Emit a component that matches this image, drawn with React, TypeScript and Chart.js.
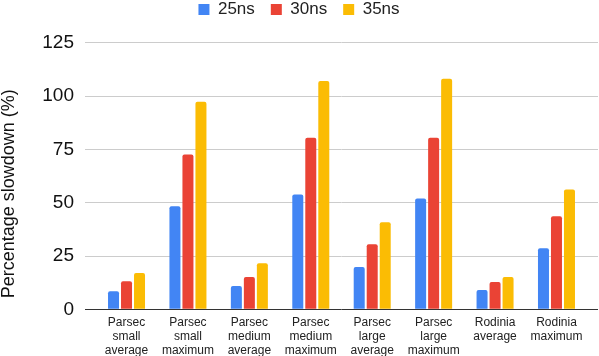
import React, { useEffect, useRef } from "react";
import { Chart, registerables } from "chart.js";

Chart.register(...registerables);

const categories: string[][] = [
  ["Parsec", "small", "average"],
  ["Parsec", "small", "maximum"],
  ["Parsec", "medium", "average"],
  ["Parsec", "medium", "maximum"],
  ["Parsec", "large", "average"],
  ["Parsec", "large", "maximum"],
  ["Rodinia", "average"],
  ["Rodinia", "maximum"],
];

const seriesNames = ["25ns", "30ns", "35ns"];
const values25 = [8.5, 48.3, 10.9, 53.9, 19.8, 52.0, 9.0, 28.6];
const values30 = [13.2, 72.6, 15.1, 80.5, 30.5, 80.5, 12.8, 43.6];
const values35 = [17.0, 97.3, 21.6, 107.1, 40.8, 108.1, 15.1, 56.2];
const yTicks = [0, 25, 50, 75, 100, 125];
const yTitle = "Percentage slowdown (%)";

const colors = ["#4285F4", "#EA4335", "#FBBC04"];
const FONT = "Arial, 'Liberation Sans', sans-serif";

const yTitlePlugin = {
  id: "yTitle",
  afterDraw(chart: any) {
    const ctx = chart.ctx as CanvasRenderingContext2D;
    const area = chart.chartArea;
    ctx.save();
    ctx.font = `18px ${FONT}`;
    ctx.fillStyle = "#111";
    ctx.textAlign = "left";
    ctx.textBaseline = "middle";
    ctx.translate(9, area.bottom - 11);
    ctx.rotate(-Math.PI / 2);
    ctx.fillText(yTitle, 0, 0);
    ctx.restore();
  },
};

export default function App() {
  const ref = useRef<HTMLCanvasElement | null>(null);

  useEffect(() => {
    if (!ref.current) return;
    const allSeries = [values25, values30, values35];
    const chart = new Chart(ref.current, {
      type: "bar",
      data: {
        datasets: allSeries.map((vals, s) => ({
          label: seriesNames[s],
          data: vals.map((v, i) => ({ x: i, y: v })),
          backgroundColor: colors[s],
          borderWidth: 0,
          borderRadius: 2,
          categoryPercentage: 0.635,
          barPercentage: 0.846,
        })),
      },
      plugins: [yTitlePlugin],
      options: {
        animation: false,
        responsive: false,
        layout: { padding: { top: -15, left: 0, right: 1, bottom: 0 } },
        plugins: {
          tooltip: { enabled: false },
          legend: {
            position: "top",
            labels: {
              boxWidth: 11,
              boxHeight: 11,
              padding: 16,
              color: "#222",
              font: { family: FONT, size: 17 },
            },
          },
        },
        scales: {
          x: {
            type: "linear",
            offset: false,
            min: -0.676,
            max: 7.676,
            afterBuildTicks: (scale: any) => {
              scale.ticks = categories.map((_, i) => ({ value: i }));
            },
            afterFit: (scale: any) => {
              scale.height = 46.7;
            },
            grid: { display: false, drawTicks: false },
            border: { display: false },
            ticks: {
              autoSkip: false,
              maxRotation: 0,
              minRotation: 0,
              padding: 6,
              color: "#222",
              font: { family: FONT, size: 12, lineHeight: 1.18 },
              callback: (v: any) => categories[Number(v)] ?? "",
            },
          },
          xTop: {
            type: "linear",
            position: "top",
            display: true,
            grid: { display: false, drawTicks: false },
            border: { display: false },
            ticks: { display: false },
            afterFit: (scale: any) => {
              scale.height = 14.8;
            },
          },
          y: {
            min: 0,
            max: 125,
            afterBuildTicks: (scale: any) => {
              scale.ticks = yTicks.map((v) => ({ value: v }));
            },
            afterFit: (scale: any) => {
              scale.width = 85;
            },
            border: { display: false },
            grid: {
              drawTicks: false,
              color: (ctx: any) => (ctx.tick && ctx.tick.value === 0 ? "#333333" : "#cccccc"),
              lineWidth: 1,
            },
            ticks: {
              padding: 11,
              color: "#111",
              font: { family: FONT, size: 19 },
            },
            title: { display: false },
          },
        },
      } as any,
    });
    return () => chart.destroy();
  }, []);

  return (
    <div style={{ position: "fixed", left: 0, top: 0, width: 599, height: 356, background: "#fff" }}>
      <canvas ref={ref} width={599} height={356} style={{ display: "block" }} />
    </div>
  );
}
